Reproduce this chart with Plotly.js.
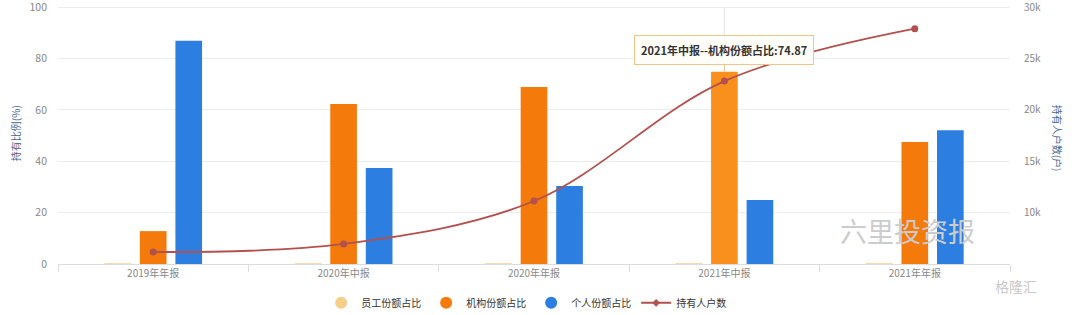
<!DOCTYPE html>
<html>
<head>
<meta charset="utf-8">
<script src="https://cdn.plot.ly/plotly-3.0.1.min.js"></script>
<style>html,body{margin:0;padding:0;background:#fff;}#chart{width:1080px;height:315px;}</style>
</head>
<body>
<div id="chart"></div>
<script>
const categories = ["2019年年报", "2020年中报", "2020年年报", "2021年中报", "2021年年报"];
const employeeShare = [0.3, 0.3, 0.3, 0.3, 0.3];
const institutionShare = [12.8, 62.3, 68.9, 74.87, 47.5];
const individualShare = [86.9, 37.4, 30.4, 24.9, 52.1];
const holders = [6170, 6950, 11130, 22800, 27900];
const leftTicks = [0, 20, 40, 60, 80, 100];
const rightTicks = [10000, 15000, 20000, 25000, 30000];
const rightTickLabels = ["10k", "15k", "20k", "25k", "30k"];
const highlightIndex = 3;

const cEmp = "#f5cf8a", cInst = "#f57a0c", cInstHi = "#f9901e", cInd = "#2c7fe0", cLine = "#b2514d";
const font = "'Noto Sans CJK SC', 'Noto Sans', sans-serif";

const instColors = categories.map((c, i) => i === highlightIndex ? cInstHi : cInst);

const traces = [
  {type: "bar", x: categories, y: employeeShare, marker: {color: cEmp}, showlegend: false, hoverinfo: "skip"},
  {type: "bar", x: categories, y: institutionShare, marker: {color: instColors}, showlegend: false, hoverinfo: "skip"},
  {type: "bar", x: categories, y: individualShare, marker: {color: cInd}, showlegend: false, hoverinfo: "skip"},
  {type: "scatter", mode: "lines+markers", x: categories, y: holders, yaxis: "y2",
   line: {color: cLine, width: 1.8, shape: "spline", smoothing: 1}, marker: {color: cLine, size: 7},
   showlegend: false, hoverinfo: "skip"},
  {type: "scatter", mode: "markers", x: [null], y: [null], name: "员工份额占比", marker: {color: cEmp, size: 12, symbol: "circle"}},
  {type: "scatter", mode: "markers", x: [null], y: [null], name: "机构份额占比", marker: {color: cInst, size: 12, symbol: "circle"}},
  {type: "scatter", mode: "markers", x: [null], y: [null], name: "个人份额占比", marker: {color: cInd, size: 12, symbol: "circle"}},
  {type: "scatter", mode: "lines+markers", x: [null], y: [null], yaxis: "y2", name: "持有人户数", line: {color: cLine, width: 2}, marker: {color: cLine, size: 6, symbol: "diamond"}}
];

const layout = {
  width: 1080, height: 315,
  margin: {l: 58, r: 70, t: 2, b: 51, autoexpand: false},
  paper_bgcolor: "#fff", plot_bgcolor: "#fff",
  font: {family: font, size: 11, color: "#888"},
  barmode: "group", bargap: 0.44, bargroupgap: 0.25,
  xaxis: {
    type: "category", showgrid: false, showline: true, linecolor: "#dcdcdc", linewidth: 1,
    ticks: "outside", tickson: "boundaries", ticklen: 7, tickcolor: "#dcdcdc",
    tickfont: {size: 10, color: "#888"}, zeroline: false, fixedrange: true
  },
  yaxis: {
    range: [0, 102], tickvals: leftTicks, showgrid: true, gridcolor: "#ececec", zeroline: false,
    tickfont: {size: 10.5, color: "#888"}, ticks: "", ticklen: 0, ticklabeloverflow: "allow",
    ticklabelstandoff: 10
  },
  yaxis2: {
    overlaying: "y", side: "right", range: [5000, 30500], tickvals: rightTicks, ticktext: rightTickLabels,
    showgrid: false, zeroline: false, tickfont: {size: 10, color: "#888"}, ticklabeloverflow: "allow",
    ticklabelstandoff: 13
  },
  legend: {orientation: "h", x: 0.497, xanchor: "center", y: -0.148, yanchor: "middle",
    font: {size: 10, color: "#333"}, entrywidth: 60, entrywidthmode: "pixels", traceorder: "normal"},
  shapes: [
    {type: "line", xref: "x", yref: "paper", x0: categories[highlightIndex], x1: categories[highlightIndex], y0: 0, y1: 0.98,
     line: {color: "#e6e6e6", width: 1}, layer: "below"}
  ],
  annotations: [
    {xref: "paper", yref: "paper", x: -0.045, y: 0.5, xanchor: "center", yanchor: "middle", text: "持有比例(%)", textangle: -90, showarrow: false,
     font: {size: 10, color: "#4a6690"}},
    {xref: "paper", yref: "paper", x: 1.05, y: 0.48, xanchor: "center", yanchor: "middle", text: "持有人户数(户)", textangle: 90, showarrow: false,
     font: {size: 10, color: "#4a6690"}},
    {xref: "x", yref: "y", x: categories[highlightIndex], y: institutionShare[highlightIndex],
     text: "<b>" + categories[highlightIndex] + "--机构份额占比:" + institutionShare[highlightIndex] + "</b>",
     showarrow: true, arrowhead: 0, arrowwidth: 1, arrowcolor: "#f0c58a", ax: 0, ay: -22, standoff: 0,
     bgcolor: "#fffdf8", bordercolor: "#f0c58a", borderwidth: 1, borderpad: 6,
     font: {size: 11, color: "#333"}},
    {xref: "paper", yref: "paper", x: 0.965, y: 0.045, text: "六里投资报", showarrow: false,
     font: {size: 27, color: "#cccccc"}},
    {xref: "paper", yref: "paper", x: 1.03, y: -0.128, text: "格隆汇", showarrow: false,
     font: {size: 14, color: "#c8c8c8"}}
  ]
};

Plotly.newPlot("chart", traces, layout, {displayModeBar: false, staticPlot: true});
</script>
</body>
</html>
